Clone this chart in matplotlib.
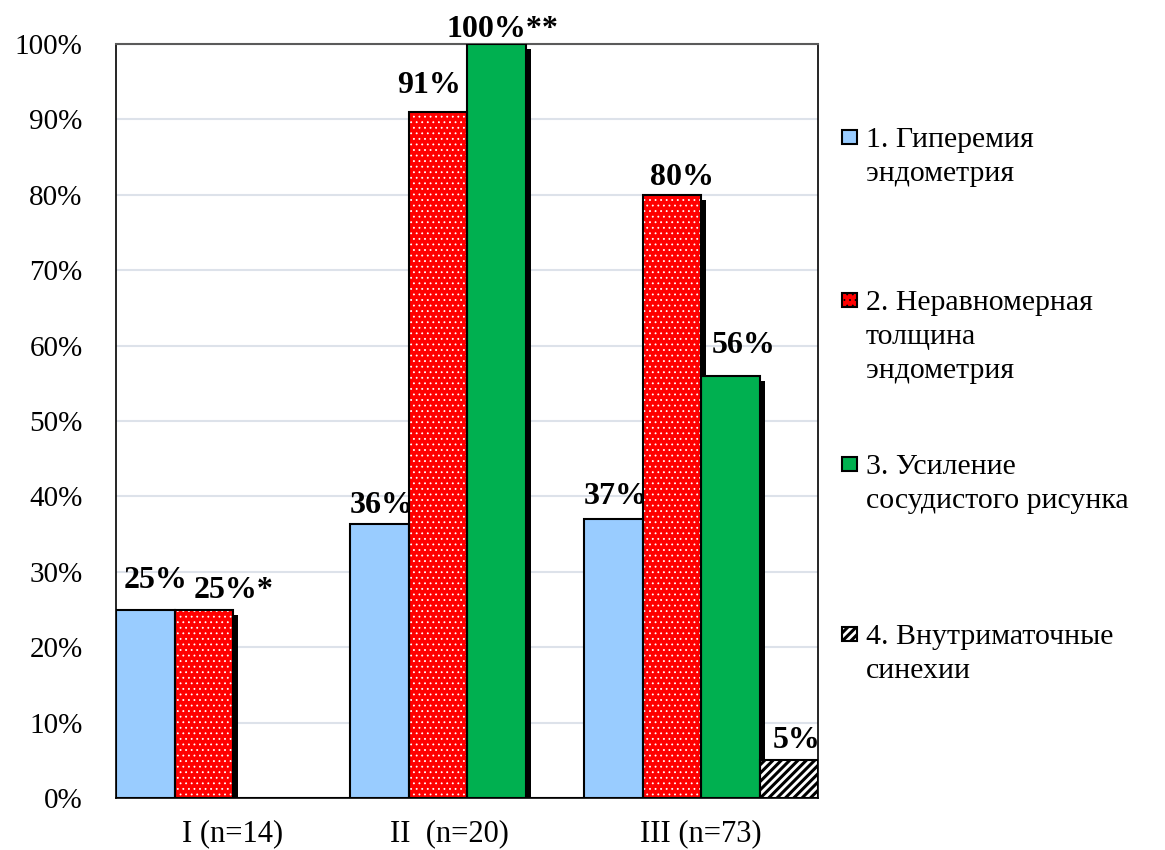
import numpy as np
import matplotlib
matplotlib.use("Agg")
import matplotlib.pyplot as plt
import matplotlib.patheffects as pe
from matplotlib.patches import Rectangle
from matplotlib.transforms import ScaledTranslation

# данные
groups = ["I (n=14)", "II  (n=20)", "III (n=73)"]
series_names = ["1. Гиперемия\nэндометрия",
                "2. Неравномерная\nтолщина\nэндометрия",
                "3. Усиление\nсосудистого рисунка",
                "4. Внутриматочные\nсинехии"]
s1 = [25, 36.3, 37]
s2 = [25, 91, 80]
s3 = [0, 100, 56]
s4 = [0, 0, 5]
labels1 = ["25%", "36%", "37%"]
labels2 = ["25%*", "91%", "80%"]
labels3 = [None, "100%**", "56%"]
labels4 = [None, None, "5%"]
yticks = [0, 10, 20, 30, 40, 50, 60, 70, 80, 90, 100]
ytick_labels = ["0%", "10%", "20%", "30%", "40%", "50%", "60%", "70%", "80%", "90%", "100%"]

# стиль
colors = ["#99CCFF", "#FF0000", "#00B050", "white"]
hatches = [None, "...", None, "////"]
hatch_colors = ["#99CCFF", "white", "#00B050", "black"]
hatch_lw = [1.0, 0.6, 1.0, 2.2]
# смещения подписей (пиксели): dx, dy над вершиной столбика
label_offsets = [[(10, 22), (2, 11), (2, 15)],
                 [(30, 11), (-9, 19), (10, 10)],
                 [(0, 0), (6, 7), (13, 23)],
                 [(0, 0), (0, 0), (8, 12)]]

plt.rcParams['font.family'] = ['Liberation Serif', 'DejaVu Serif']

fig = plt.figure(figsize=(11.65, 8.5), dpi=100)
ax = fig.add_axes([116 / 1165, 1 - 798 / 850, (818 - 116) / 1165, (798 - 44) / 850])

x = np.arange(len(groups))
w = 0.25
data = [s1, s2, s3, s4]
labels = [labels1, labels2, labels3, labels4]

for i, vals in enumerate(data):
    pos = x + (i - 1.5) * w
    # тень
    ax.bar(pos, vals, w, fill=False, linewidth=0, zorder=1.5,
           path_effects=[pe.SimplePatchShadow(offset=(3.6, -3.6), shadow_rgbFace='black', alpha=1.0)])
    # заливка
    plt.rcParams['hatch.linewidth'] = hatch_lw[i]
    ax.bar(pos, vals, w, color=colors[i], edgecolor=hatch_colors[i], linewidth=0,
           hatch=hatches[i], zorder=2)
    # контур
    ax.bar(pos, vals, w, fill=False, edgecolor='black', linewidth=1.5, zorder=3)
    for j, lab in enumerate(labels[i]):
        if lab is None:
            continue
        dx, dy = label_offsets[i][j]
        ax.annotate(lab, (pos[j], vals[j]), xytext=(dx, dy), textcoords='offset pixels',
                    ha='center', va='baseline', fontsize=23, fontweight='bold', zorder=5,
                    annotation_clip=False)

ax.set_xlim(-0.5, 2.5)
ax.set_ylim(0, 100)
ax.set_yticks(yticks)
ax.set_yticklabels(ytick_labels, fontsize=21)
ax.set_xticks(x)
ax.set_xticklabels(groups, fontsize=22)
ax.tick_params(axis='y', length=0, pad=24)
ax.tick_params(axis='x', length=0, pad=15)
# II-подпись чуть левее, как в оригинале
xl = ax.get_xticklabels()[1]
xl.set_transform(xl.get_transform() + ScaledTranslation(-18 / 100, 0, fig.dpi_scale_trans))

ax.grid(axis='y', color='#dde2ea', linewidth=1.5, zorder=0)
ax.set_axisbelow(True)
for side in ['left', 'bottom', 'right']:
    ax.spines[side].set_color('black')
    ax.spines[side].set_linewidth(1.2)
ax.spines['top'].set_color('#5a5a5a')
ax.spines['top'].set_linewidth(1.5)

# легенда
leg_y = [130, 293, 457, 627]
for i, name in enumerate(series_names):
    y0 = 1 - (leg_y[i] + 14) / 850
    plt.rcParams['hatch.linewidth'] = hatch_lw[i]
    fig.patches.append(Rectangle((842 / 1165, y0), 15 / 1165, 14 / 850, transform=fig.transFigure,
                                 facecolor=colors[i], edgecolor='black', linewidth=1.5,
                                 hatch=hatches[i], figure=fig))
    fig.text(866 / 1165, 1 - (leg_y[i] - 3) / 850, name, fontsize=21.5, va='top', ha='left',
             linespacing=1.4)

fig.savefig("out.png", dpi=100)
